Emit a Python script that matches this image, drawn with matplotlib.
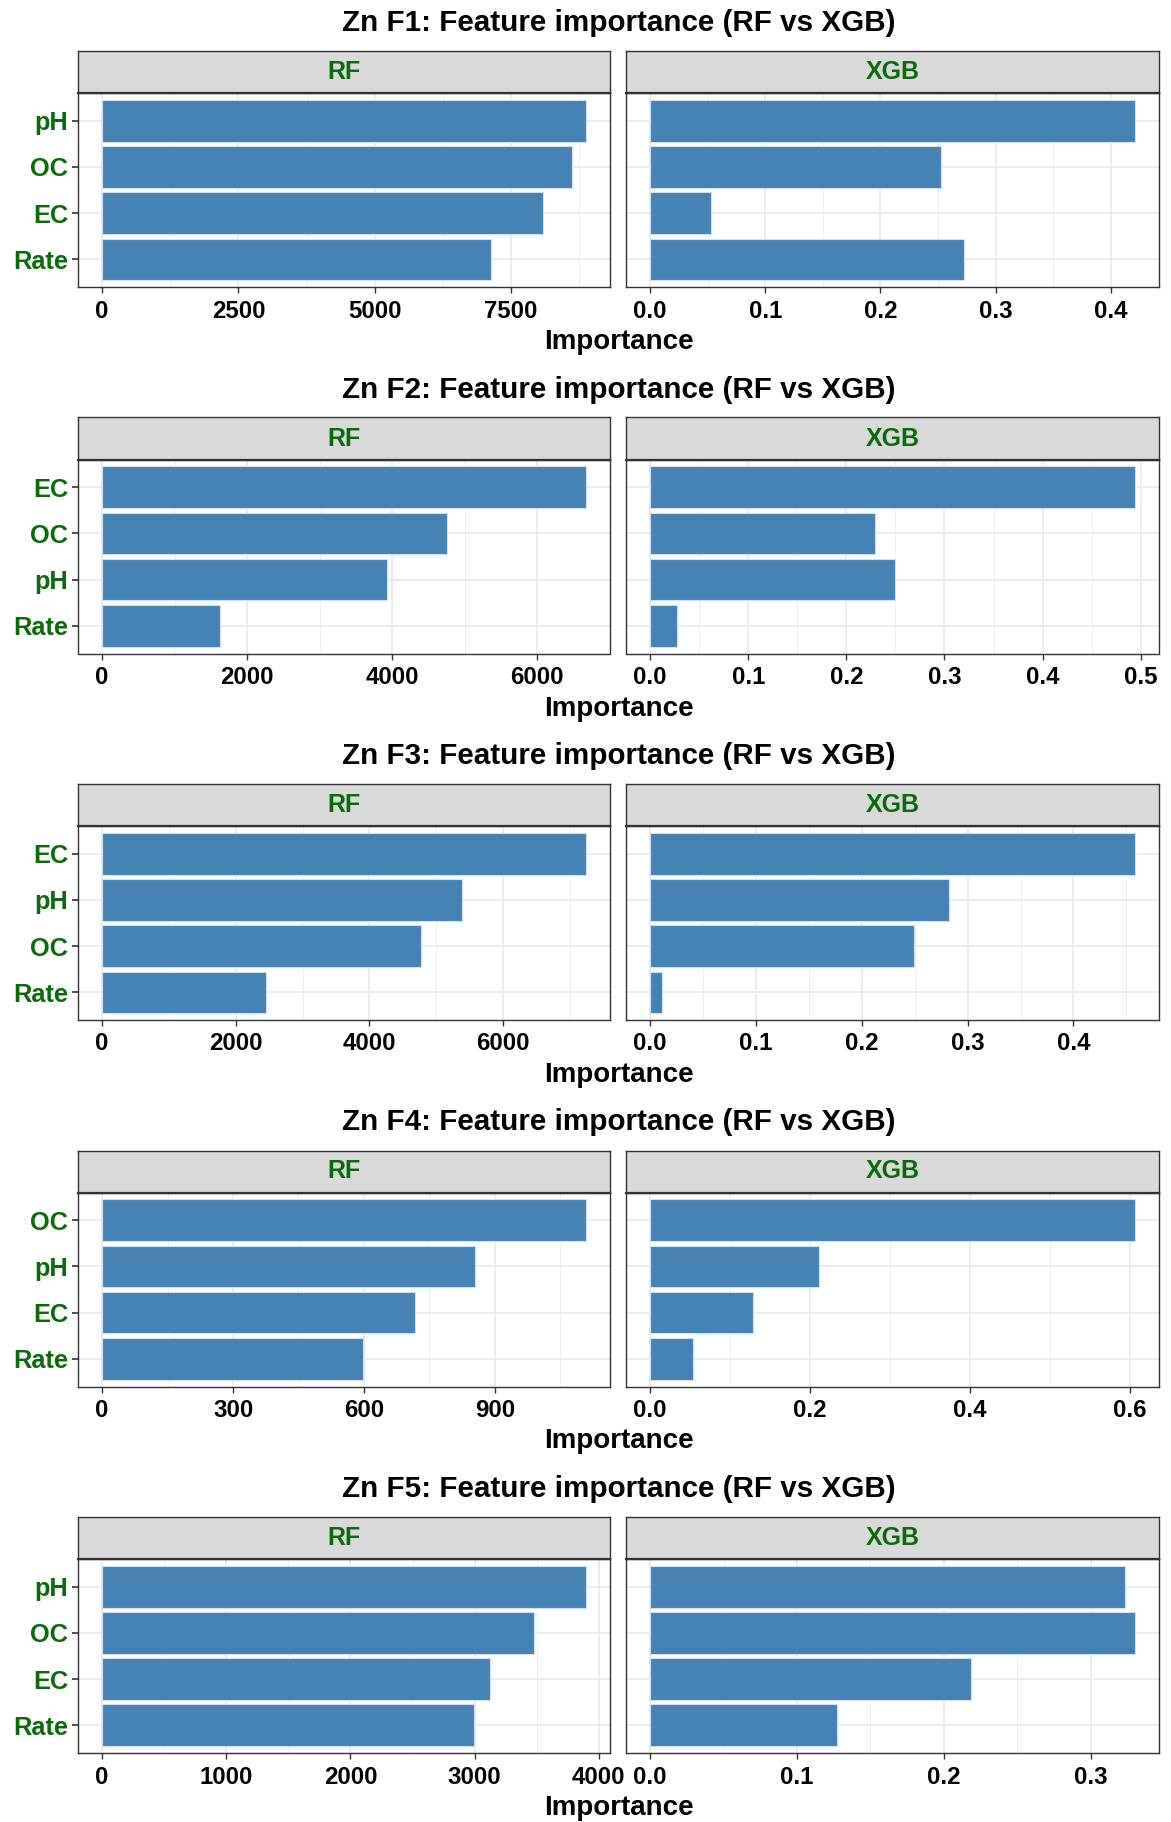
import matplotlib
matplotlib.use('Agg')
import matplotlib.pyplot as plt

plt.rcParams['font.family'] = ['Liberation Sans', 'DejaVu Sans']
plt.rcParams['font.weight'] = 'bold'

# ---- data (features listed top to bottom) ----
titles = ['Zn F1: Feature importance (RF vs XGB)',
          'Zn F2: Feature importance (RF vs XGB)',
          'Zn F3: Feature importance (RF vs XGB)',
          'Zn F4: Feature importance (RF vs XGB)',
          'Zn F5: Feature importance (RF vs XGB)']
models = ['RF', 'XGB']

feat_f1 = ['pH', 'OC', 'EC', 'Rate']
rf_f1 = [8870, 8617, 8090, 7124]
xgb_f1 = [0.421, 0.253, 0.053, 0.273]
rf_ticks_f1 = [0, 2500, 5000, 7500]
xgb_ticks_f1 = [0.0, 0.1, 0.2, 0.3, 0.4]

feat_f2 = ['EC', 'OC', 'pH', 'Rate']
rf_f2 = [6672, 4755, 3926, 1627]
xgb_f2 = [0.494, 0.229, 0.250, 0.027]
rf_ticks_f2 = [0, 2000, 4000, 6000]
xgb_ticks_f2 = [0.0, 0.1, 0.2, 0.3, 0.4, 0.5]

feat_f3 = ['EC', 'pH', 'OC', 'Rate']
rf_f3 = [7239, 5383, 4766, 2452]
xgb_f3 = [0.458, 0.2825, 0.249, 0.011]
rf_ticks_f3 = [0, 2000, 4000, 6000]
xgb_ticks_f3 = [0.0, 0.1, 0.2, 0.3, 0.4]

feat_f4 = ['OC', 'pH', 'EC', 'Rate']
rf_f4 = [1108.6, 854.5, 717.6, 598.7]
xgb_f4 = [0.606, 0.2115, 0.128, 0.0536]
rf_ticks_f4 = [0, 300, 600, 900]
xgb_ticks_f4 = [0.0, 0.2, 0.4, 0.6]

feat_f5 = ['pH', 'OC', 'EC', 'Rate']
rf_f5 = [3896, 3481, 3126, 2997]
xgb_f5 = [0.3235, 0.330, 0.2185, 0.1273]
rf_ticks_f5 = [0, 1000, 2000, 3000, 4000]
xgb_ticks_f5 = [0.0, 0.1, 0.2, 0.3]

features = [feat_f1, feat_f2, feat_f3, feat_f4, feat_f5]
rf_vals = [rf_f1, rf_f2, rf_f3, rf_f4, rf_f5]
xgb_vals = [xgb_f1, xgb_f2, xgb_f3, xgb_f4, xgb_f5]
rf_ticks = [rf_ticks_f1, rf_ticks_f2, rf_ticks_f3, rf_ticks_f4, rf_ticks_f5]
xgb_ticks = [xgb_ticks_f1, xgb_ticks_f2, xgb_ticks_f3, xgb_ticks_f4, xgb_ticks_f5]

# ---- layout (pixels) ----
W, H = 1171, 1822
bar_col = '#4682B4'
green = '#0A6B0A'
dark = '#333333'
step = 366.5
px_l = [(78, 610), (626, 1159)]

fig = plt.figure(figsize=(W / 100, H / 100), dpi=100)

for k in range(5):
    off = step * k
    fig.text(618.5 / W, 1 - (23 + off) / H, titles[k], ha='center', va='center',
             fontsize=21.3, fontweight='bold', color='black')
    fig.text(618.5 / W, 1 - (342 + off) / H, 'Importance', ha='center', va='center',
             fontsize=20, fontweight='bold', color='black')
    ypos = [len(features[k]) - i for i in range(len(features[k]))]
    for j in range(2):
        vals = rf_vals[k] if j == 0 else xgb_vals[k]
        ticks = rf_ticks[k] if j == 0 else xgb_ticks[k]
        x0, x1 = px_l[j]
        ax = fig.add_axes([x0 / W, 1 - (287 + off) / H, (x1 - x0) / W, (287 - 93) / H])
        ax.barh(ypos, vals, height=0.9, color=bar_col, edgecolor='#cfe0ef',
                linewidth=0.8, zorder=3)
        mx = max(vals)
        lo, hi = -0.05 * mx, 1.05 * mx
        ax.set_xlim(lo, hi)
        ax.set_ylim(0.4, 4.6)
        st = ticks[1] - ticks[0]
        minors = [t + st / 2 for t in [ticks[0] - st] + ticks if lo < t + st / 2 < hi]
        ax.set_xticks(ticks)
        ax.set_xticks(minors, minor=True)
        if j == 0:
            ax.set_xticklabels([str(int(t)) for t in ticks])
        else:
            ax.set_xticklabels(['%.1f' % t for t in ticks])
        ax.set_yticks(ypos)
        ax.grid(which='major', color='#EBEBEB', linewidth=1.3, zorder=0)
        ax.grid(which='minor', axis='x', color='#EBEBEB', linewidth=0.6, zorder=0)
        ax.set_axisbelow(True)
        ax.tick_params(axis='x', which='major', length=4, width=1, color=dark, pad=5,
                       labelsize=17.3, labelcolor='black')
        ax.tick_params(axis='x', which='minor', length=0)
        if j == 0:
            ax.set_yticklabels(features[k])
            ax.tick_params(axis='y', length=4, width=1.2, color=dark, pad=3,
                           labelsize=18.3, labelcolor=green)
        else:
            ax.set_yticklabels([])
            ax.tick_params(axis='y', length=0)
        for lab in ax.get_xticklabels() + ax.get_yticklabels():
            lab.set_fontweight('bold')
        for sp in ax.spines.values():
            sp.set_color(dark)
            sp.set_linewidth(1.0)

        # facet strip
        sx = fig.add_axes([x0 / W, 1 - (93 + off) / H, (x1 - x0) / W, (93 - 51) / H])
        sx.set_facecolor('#D9D9D9')
        sx.set_xticks([])
        sx.set_yticks([])
        for sp in sx.spines.values():
            sp.set_color(dark)
            sp.set_linewidth(1.0)
        sx.spines['bottom'].set_linewidth(1.6)
        sx.text(0.5, 0.5, models[j], transform=sx.transAxes, ha='center', va='center',
                fontsize=18, fontweight='bold', color=green)

fig.savefig('out.png', dpi=100, facecolor='white')
